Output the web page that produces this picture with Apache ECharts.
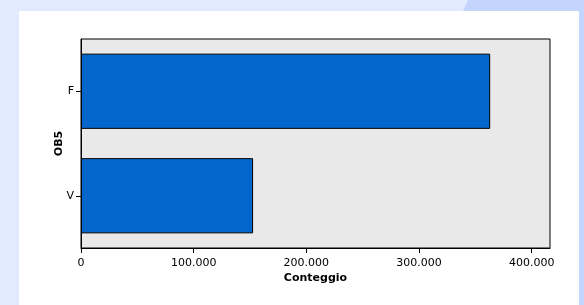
<!DOCTYPE html>
<html>
<head>
<meta charset="utf-8">
<title>OB5 - Conteggio</title>
<script src="https://cdn.jsdelivr.net/npm/echarts@6/dist/echarts.min.js"></script>
<style>
  html, body { margin: 0; padding: 0; }
  #main { width: 584px; height: 305px; }
</style>
</head>
<body>
<div id="main"></div>
<script>
// dati
var categorie = ['F', 'V'];
var conteggi = [363200, 152750];
var tickValori = [0, 100000, 200000, 300000, 400000];

var myChart = echarts.init(document.getElementById('main'));

function formatoIt(v) {
    // separatore delle migliaia col punto
    return String(v).replace(/\B(?=(\d{3})+(?!\d))/g, '.');
}

var option = {
    backgroundColor: '#e2ebfd',
    animation: false,
    graphic: [
        // zona più scura in alto a destra
        { type: 'polygon', silent: true, z: -10,
          shape: { points: [[468, 0], [584, 0], [584, 305], [579, 305], [579, 11], [463, 11]] },
          style: { fill: '#c3d5fc' } },
        // pannello bianco
        { type: 'rect', silent: true, z: -9,
          shape: { x: 19, y: 11, width: 560, height: 294 },
          style: { fill: '#ffffff' } }
    ],
    grid: {
        left: 81, right: 34, top: 39, bottom: 57,
        show: true,
        backgroundColor: '#e9e9e9',
        borderColor: '#000',
        borderWidth: 1
    },
    xAxis: {
        type: 'value',
        min: 0,
        max: 416300,
        name: 'Conteggio',
        nameLocation: 'middle',
        nameGap: 25,
        nameMoveOverlap: false,
        nameTextStyle: { fontFamily: 'DejaVu Sans', fontSize: 11, fontWeight: 'bold', color: '#000' },
        splitLine: { show: false },
        axisLine: { show: true, lineStyle: { color: '#000' } },
        axisTick: { show: true, length: 5, lineStyle: { color: '#000' }, customValues: tickValori },
        axisLabel: {
            customValues: tickValori,
            formatter: formatoIt,
            fontFamily: 'DejaVu Sans', fontSize: 11, color: '#000', margin: 10
        }
    },
    yAxis: {
        type: 'category',
        data: categorie,
        inverse: true,
        name: 'OB5',
        nameLocation: 'middle',
        nameGap: 16,
        nameMoveOverlap: false,
        nameRotate: 90,
        nameTextStyle: { fontFamily: 'DejaVu Sans', fontSize: 11, fontWeight: 'bold', color: '#000' },
        axisLine: { show: true, lineStyle: { color: '#000' } },
        axisTick: { show: true, length: 5, alignWithLabel: true, lineStyle: { color: '#000' } },
        axisLabel: { fontFamily: 'DejaVu Sans', fontSize: 11, color: '#000', margin: 7 }
    },
    series: [
        {
            name: 'Conteggio',
            type: 'bar',
            data: conteggi,
            barCategoryGap: '28%',
            itemStyle: { color: '#0366cc', borderColor: '#000', borderWidth: 1 }
        }
    ]
};

myChart.setOption(option);
</script>
</body>
</html>
